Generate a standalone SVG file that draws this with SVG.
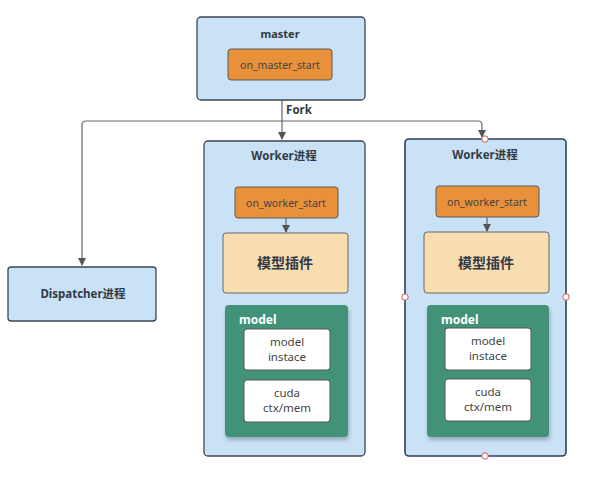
<svg xmlns="http://www.w3.org/2000/svg" width="602" height="490" viewBox="0 0 602 490">
<style>
text{font-family:"Noto Sans","Noto Sans CJK SC",sans-serif;fill:#333a45;text-anchor:middle}
.b{font-weight:bold;font-size:11.5px}
.s{font-size:11.5px;fill:#444}
.o{font-size:10.5px;fill:#444}
.blue{fill:#c9e2f5;stroke:#3d4452;stroke-width:1.3}
.org{fill:#e8913a;stroke:#5a5a5a;stroke-width:1}
.tan{fill:#f8ddb0;stroke:#666;stroke-width:1}
.grn{fill:#43927a;stroke:none}
.wht{fill:#fff;stroke:#555;stroke-width:1}
.ln{fill:none;stroke:#666;stroke-width:1.2}
.h{fill:#fff;stroke:#d05a5a;stroke-width:1}
</style>
<defs>
<marker id="ar" markerWidth="8" markerHeight="8" refX="7" refY="4" orient="auto" markerUnits="userSpaceOnUse">
<path d="M0,0 L8,4 L0,8 z" fill="#555"/>
</marker>
<filter id="sh" x="-10%" y="-10%" width="130%" height="130%">
<feDropShadow dx="1" dy="3" stdDeviation="2" flood-color="#000" flood-opacity="0.25"/>
</filter>
</defs>
<rect width="602" height="490" fill="#fff"/>
<g id="connectors">
<path class="ln" d="M282,100 V139" marker-end="url(#ar)"/>
<path class="ln" d="M282,121 H86 Q82,121 82,125 V265" marker-end="url(#ar)"/>
<path class="ln" d="M282,121 H478 Q482,121 482,125 V137" marker-end="url(#ar)"/>
<text class="b" x="299" y="114">Fork</text>
</g>
<g id="master">
<rect class="blue" x="197" y="17" width="168" height="83" rx="4"/>
<text class="b" x="280" y="38" style="font-size:11px">master</text>
<rect class="org" x="228" y="49" width="104" height="31" rx="3"/>
<text class="o" x="280" y="69">on_master_start</text>
</g>
<g id="dispatcher">
<rect class="blue" x="8" y="267" width="148" height="54" rx="3"/>
<text class="b" x="83" y="298">Dispatcher进程</text>
</g>
<g id="worker1">
<rect class="blue" x="204" y="141" width="161" height="315" rx="4"/>
<text class="b" x="284" y="160">Worker进程</text>
<rect class="org" x="235" y="187" width="103" height="31" rx="3"/>
<text class="o" x="286" y="207">on_worker_start</text>
<path class="ln" d="M286,218 V232" marker-end="url(#ar)"/>
<rect class="tan" x="223" y="233" width="125" height="60" rx="3"/>
<text class="b" x="285" y="268" style="font-size:14px">模型插件</text>
<rect class="grn" x="225" y="305" width="123" height="132" rx="4" filter="url(#sh)"/>
<text class="b" x="239" y="324" style="fill:#fff;text-anchor:start;font-size:12px">model</text>
<rect class="wht" x="244" y="329" width="86" height="41" rx="3"/>
<text class="s" x="287" y="346">model</text>
<text class="s" x="287" y="361">instace</text>
<rect class="wht" x="244" y="380" width="86" height="42" rx="3"/>
<text class="s" x="287" y="397">cuda</text>
<text class="s" x="287" y="412">ctx/mem</text>
</g>
<g id="worker2">
<rect class="blue" x="405" y="139" width="161" height="317" rx="4" style="stroke:#2f3d5c;stroke-width:1.6"/>
<text class="b" x="485" y="159">Worker进程</text>
<rect class="org" x="436" y="186" width="103" height="31" rx="3"/>
<text class="o" x="487" y="206">on_worker_start</text>
<path class="ln" d="M487,217 V231" marker-end="url(#ar)"/>
<rect class="tan" x="424" y="232" width="125" height="61" rx="3"/>
<text class="b" x="486" y="268" style="font-size:14px">模型插件</text>
<rect class="grn" x="427" y="305" width="122" height="132" rx="4" filter="url(#sh)"/>
<text class="b" x="441" y="324" style="fill:#fff;text-anchor:start;font-size:12px">model</text>
<rect class="wht" x="445" y="328" width="86" height="42" rx="3"/>
<text class="s" x="488" y="345">model</text>
<text class="s" x="488" y="360">instace</text>
<rect class="wht" x="445" y="379" width="86" height="42" rx="3"/>
<text class="s" x="488" y="396">cuda</text>
<text class="s" x="488" y="411">ctx/mem</text>
<circle class="h" cx="485" cy="139" r="3.2"/>
<circle class="h" cx="405" cy="297" r="3.2"/>
<circle class="h" cx="566" cy="297" r="3.2"/>
<circle class="h" cx="485" cy="456" r="3.2"/>
</g>
</svg>
